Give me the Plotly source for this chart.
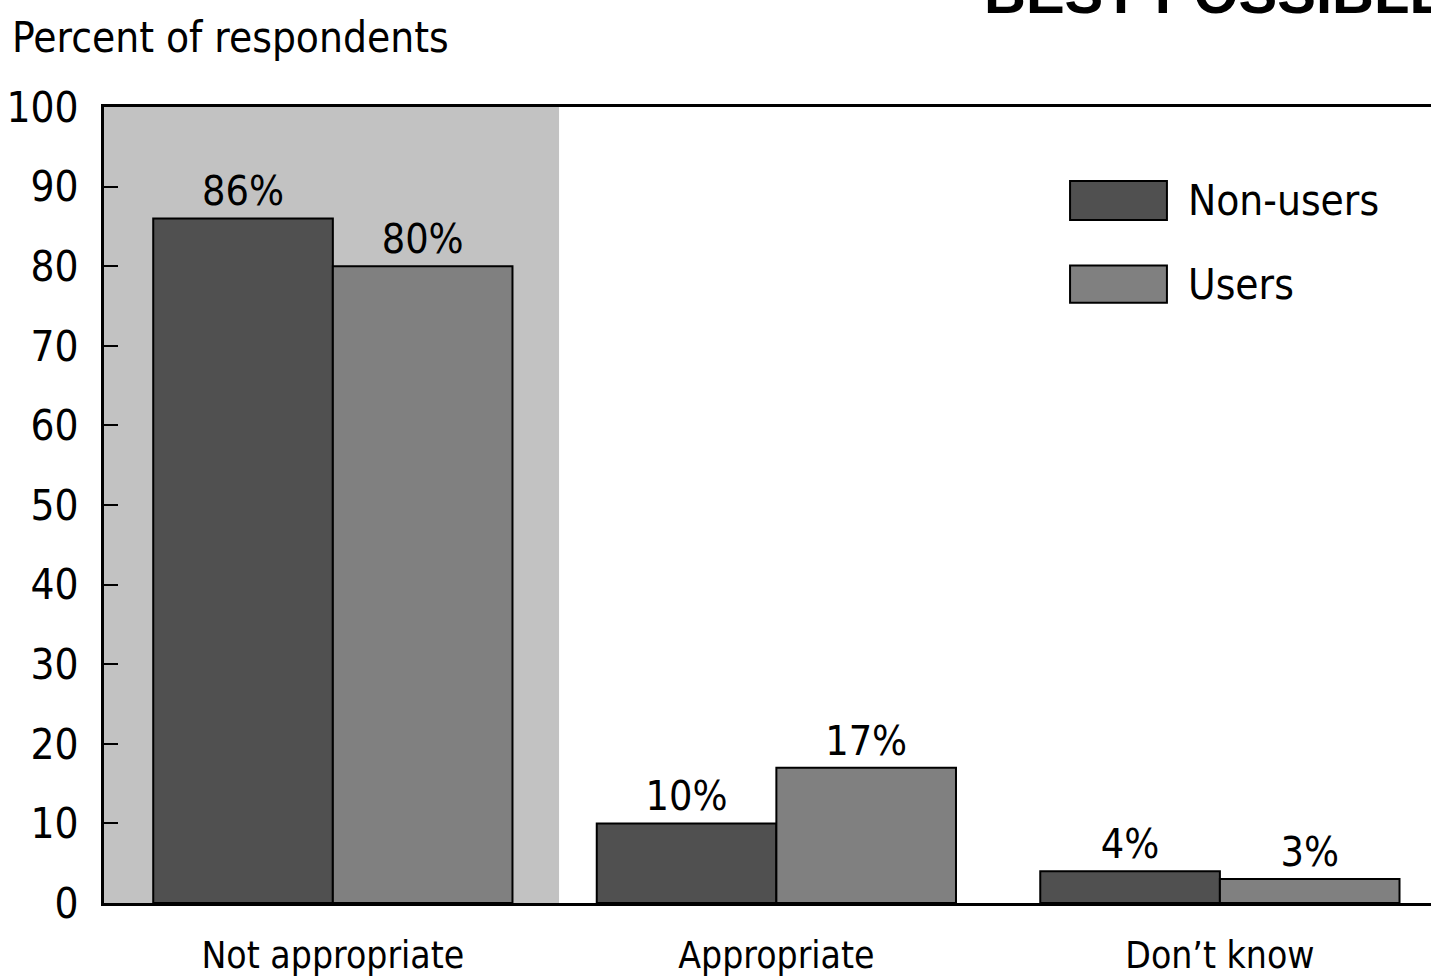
import plotly.graph_objects as go

# Survey results: share of respondents by opinion, split by group
categories = ["Not appropriate", "Appropriate", "Don’t know"]
non_users = [86, 10, 4]
users = [80, 17, 3]
y_ticks = [0, 10, 20, 30, 40, 50, 60, 70, 80, 90, 100]

FONT = "DejaVu Sans Condensed, Liberation Sans Narrow, Arial Narrow, sans-serif"
NON_USER_FILL = "#505050"
USER_FILL = "#808080"
HIGHLIGHT_FILL = "#c2c2c2"

x_idx = list(range(len(categories)))

fig = go.Figure()
fig.add_trace(go.Bar(
    name="Non-users", x=x_idx, y=non_users,
    marker=dict(color=NON_USER_FILL, line=dict(color="black", width=2)),
    text=[f"{v}%" for v in non_users], textposition="outside",
    textfont=dict(family=FONT, size=41, color="black"), cliponaxis=False,
))
fig.add_trace(go.Bar(
    name="Users", x=x_idx, y=users,
    marker=dict(color=USER_FILL, line=dict(color="black", width=2)),
    text=[f"{v}%" for v in users], textposition="outside",
    textfont=dict(family=FONT, size=41, color="black"), cliponaxis=False,
))

# Shaded panel behind the first category
fig.add_shape(type="rect", xref="x", yref="y", x0=-0.6, x1=0.51, y0=0, y1=100,
              fillcolor=HIGHLIGHT_FILL, line=dict(width=0), layer="below")

# Legend drawn as swatches with labels
legend_items = [("Non-users", NON_USER_FILL, 0.858, 0.907),
                ("Users", USER_FILL, 0.754, 0.801)]
for label, color, y0, y1 in legend_items:
    fig.add_shape(type="rect", xref="paper", yref="paper", x0=0.728, x1=0.801,
                  y0=y0, y1=y1, fillcolor=color, line=dict(color="black", width=2))
    fig.add_annotation(xref="paper", yref="paper", x=0.815, y=(y0 + y1) / 2,
                       text=label, showarrow=False, xanchor="left", yanchor="middle",
                       font=dict(family=FONT, size=42, color="black"))

# Axis title placed above the value axis
fig.add_annotation(xref="paper", yref="paper", x=-0.071, y=1.087,
                   text="Percent of respondents", showarrow=False,
                   xanchor="left", yanchor="middle",
                   font=dict(family=FONT, size=42, color="black"))

# Stamp at the top edge of the page
fig.add_annotation(xref="paper", yref="paper", x=0.662, y=1.10,
                   text="<b>BEST POSSIBLE</b>", showarrow=False,
                   xanchor="left", yanchor="bottom",
                   font=dict(family="Liberation Sans, Arial, sans-serif", size=58, color="black"))

fig.update_layout(
    width=1431, height=979,
    margin=dict(l=104, r=0, t=107, b=76),
    paper_bgcolor="white", plot_bgcolor="white",
    barmode="group", bargap=0.19, bargroupgap=0,
    showlegend=False,
    font=dict(family=FONT, color="black"),
)
fig.update_xaxes(
    range=[-0.516, 2.476], tickmode="array", tickvals=x_idx, ticktext=categories,
    showline=True, linecolor="black", linewidth=3, mirror=True,
    showgrid=False, zeroline=False, ticks="", automargin=False,
    tickfont=dict(family=FONT, size=37, color="black"), ticklabelstandoff=18,
)
fig.update_yaxes(
    range=[0, 100], tickmode="array", tickvals=y_ticks,
    showline=True, linecolor="black", linewidth=3,
    showgrid=False, zeroline=False, automargin=False,
    ticks="inside", ticklen=14, tickwidth=1.5, tickcolor="black",
    tickfont=dict(family=FONT, size=42, color="black"), ticklabelstandoff=14,
)

fig.write_html("out.html")
